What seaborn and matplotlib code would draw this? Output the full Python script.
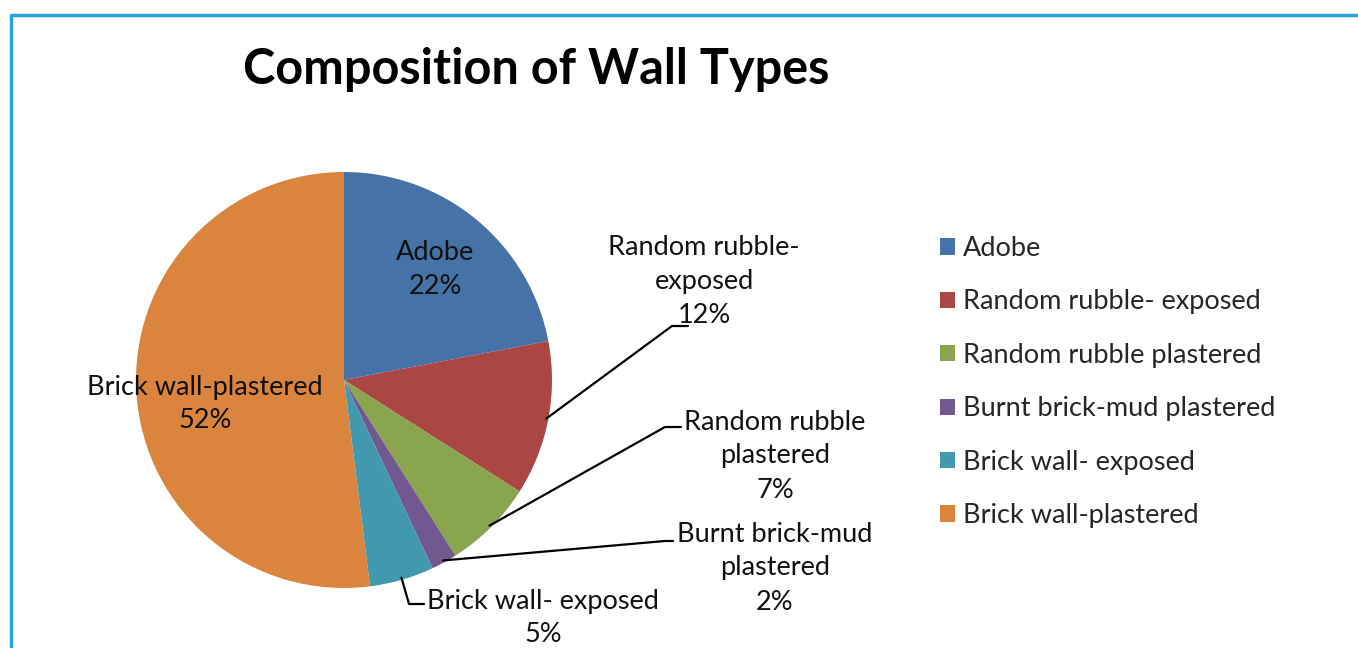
import numpy as np
import matplotlib
matplotlib.use("Agg")
import matplotlib.pyplot as plt
from matplotlib.lines import Line2D
from matplotlib.patches import Patch
import seaborn as sns

categories = ["Adobe", "Random rubble- exposed", "Random rubble plastered",
              "Burnt brick-mud plastered", "Brick wall- exposed", "Brick wall-plastered"]
values = [22, 12, 7, 2, 5, 52]
slice_labels = ["Adobe", "Random rubble-\nexposed", "Random rubble\nplastered",
                "Burnt brick-mud\nplastered", "Brick wall- exposed", "Brick wall-plastered"]
colors = ["#4572A7", "#AA4643", "#89A54E", "#71588F", "#4198AF", "#DB843D"]
title = "Composition of Wall Types"

sns.set_theme(style="white")
plt.rcParams['font.family'] = ['Lato', 'DejaVu Sans']

W, H = 1358, 648
fig = plt.figure(figsize=(W / 100, H / 100), dpi=100)
fig.patch.set_facecolor("white")

def fx(x):
    return x / W

def fy(y):
    return 1 - y / H

# pie axes: center (344,380), radius 208 px
cx, cy, r = 344, 380, 208
ax = fig.add_axes([fx(cx - r), fy(cy + r), 2 * r / W, 2 * r / H])
palette = sns.color_palette(colors)
wedges, _ = ax.pie(values, colors=palette, startangle=90, counterclock=False,
                   radius=1.0, wedgeprops=dict(linewidth=0))
ax.set_xlim(-1, 1)
ax.set_ylim(-1, 1)
ax.set_aspect("auto")
ax.axis("off")

total = sum(values)

def wedge_point(i, frac=1.0):
    w = wedges[i]
    ang = np.deg2rad((w.theta1 + w.theta2) / 2)
    px, py = ax.transData.transform((frac * np.cos(ang), frac * np.sin(ang)))
    return px, H - py  # top-left pixel coords

fs = 19.5
pct = [f"{round(100 * v / total)}%" for v in values]

# label positions (text centers, top-left px) and leader elbows
label_pos = {
    0: (435, 269),
    1: (704, 282),
    2: (775, 456),
    3: (775, 568),
    4: (543, 618),
    5: (205, 404),
}
elbows = {
    1: [(672, 326), (688, 326)],
    2: [(665, 427), (681, 427)],
    3: [(665, 541), (673, 541)],
    4: [(409, 604), (424, 604)],
}

for i in range(len(values)):
    x, y = label_pos[i]
    fig.text(fx(x), fy(y), f"{slice_labels[i]}\n{pct[i]}", ha="center", va="center",
             fontsize=fs, color="#111111", linespacing=1.45)
    if i in elbows:
        sx, sy = wedge_point(i, 0.99)
        pts = [(sx, sy)] + elbows[i]
        fig.add_artist(Line2D([fx(p[0]) for p in pts], [fy(p[1]) for p in pts],
                              transform=fig.transFigure, color="black", lw=1.6))

fig.text(fx(536), fy(70), title, ha="center", va="center", fontsize=35,
         fontweight="bold", color="black")

handles = [Patch(facecolor=c, edgecolor="none") for c in palette]
fig.legend(handles, categories, loc="upper left", bbox_to_anchor=(fx(940), fy(236)),
           frameon=False, fontsize=fs, handlelength=0.55, handleheight=0.55,
           handletextpad=0.3, labelspacing=1.05, borderaxespad=0, borderpad=0)

# chart frame (blue border, left and top)
fig.add_artist(Line2D([fx(10.5), fx(10.5), fx(W + 5)], [0 - 0.01, fy(14.5), fy(14.5)],
                      transform=fig.transFigure, color="#29A3E0", lw=2.5))

fig.savefig("out.png", dpi=100, facecolor="white")
